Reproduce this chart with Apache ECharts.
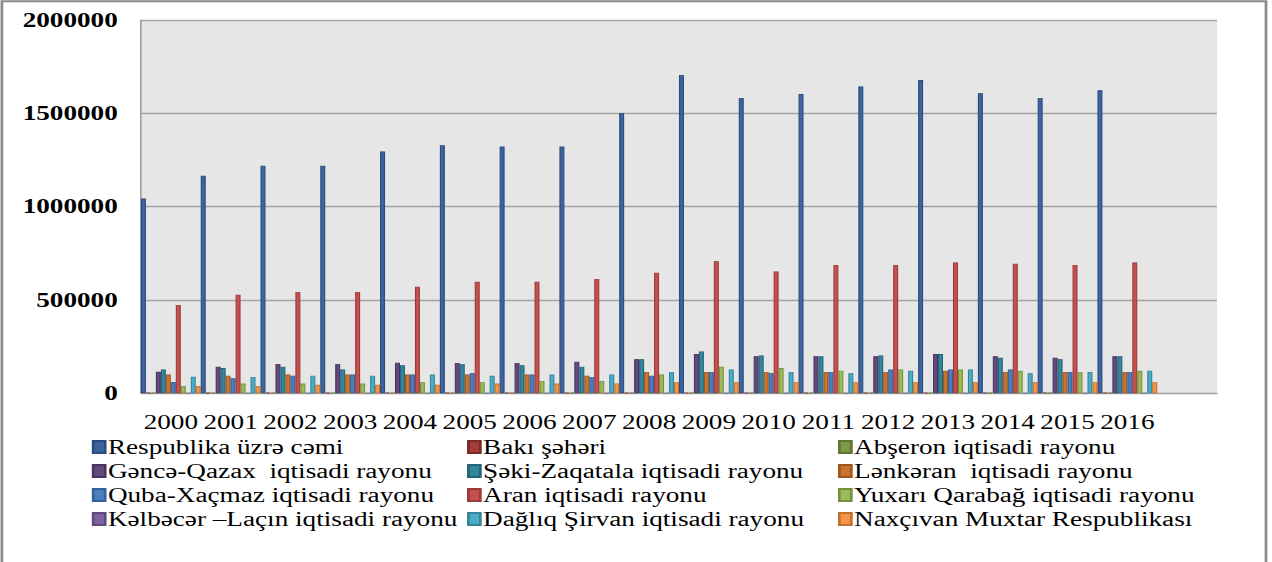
<!DOCTYPE html>
<html>
<head>
<meta charset="utf-8">
<script src="https://cdn.jsdelivr.net/npm/echarts@6/dist/echarts.min.js"></script>
<style>
html,body{margin:0;padding:0;background:#fff;overflow:hidden;}
#wrap{width:1272px;height:562px;overflow:hidden;position:relative;}
#chart{width:935px;height:562px;transform:scaleX(1.3604);transform-origin:0 0;}
</style>
</head>
<body>
<div id="wrap"><div id="chart"></div></div>
<script>
// ---- data ----
const years = ['2000','2001','2002','2003','2004','2005','2006','2007','2008','2009','2010','2011','2012','2013','2014','2015','2016'];
const yTicks = [0, 500000, 1000000, 1500000, 2000000];

const seriesNames = [
  'Respublika üzrə cəmi',
  'Bakı şəhəri',
  'Abşeron iqtisadi rayonu',
  'Gəncə-Qazax  iqtisadi rayonu',
  'Şəki-Zaqatala iqtisadi rayonu',
  'Lənkəran  iqtisadi rayonu',
  'Quba-Xaçmaz iqtisadi rayonu',
  'Aran iqtisadi rayonu',
  'Yuxarı Qarabağ iqtisadi rayonu',
  'Kəlbəcər –Laçın iqtisadi rayonu',
  'Dağlıq Şirvan iqtisadi rayonu',
  'Naxçıvan Muxtar Respublikası'
];

const respublika   = [1043000,1166000,1219000,1219000,1296000,1329000,1322000,1322000,1502000,1705000,1582000,1603000,1644000,1678000,1608000,1582000,1623000];
const baki         = [3000,3000,3000,3000,3000,3000,3000,3000,3000,3000,3000,3000,3000,3000,3000,3000,3000];
const abseron      = [3000,3000,3000,3000,3000,3000,3000,3000,3000,3000,3000,3000,3000,3000,3000,3000,3000];
const genceQazax   = [116000,142000,157000,157000,164000,162000,162000,169000,183000,210000,198000,198000,198000,210000,198000,190000,198000];
const sekiZaqatala = [128000,135000,142000,128000,150000,155000,150000,142000,183000,224000,203000,198000,203000,210000,190000,183000,198000];
const lenkeran     = [101000,94000,101000,101000,101000,101000,101000,94000,114000,114000,114000,114000,114000,121000,114000,114000,114000];
const qubaXacmaz   = [60000,80000,94000,101000,101000,109000,101000,87000,94000,114000,109000,114000,128000,128000,128000,114000,114000];
const aran         = [473000,528000,543000,543000,571000,598000,598000,612000,646000,708000,653000,687000,687000,701000,694000,687000,701000];
const yuxariQarabag= [39000,52000,52000,52000,59000,59000,66000,66000,101000,142000,135000,121000,128000,128000,121000,114000,121000];
const kelbecerLacin= [2000,2000,2000,2000,2000,2000,2000,2000,2000,2000,2000,2000,2000,2000,2000,2000,2000];
const dagliqSirvan = [89000,87000,94000,94000,101000,94000,101000,101000,114000,128000,114000,107000,121000,128000,107000,114000,121000];
const naxcivan     = [39000,39000,46000,46000,46000,52000,52000,53000,59000,59000,59000,59000,59000,59000,59000,59000,59000];

const seriesData = [respublika, baki, abseron, genceQazax, sekiZaqatala, lenkeran, qubaXacmaz, aran, yuxariQarabag, kelbecerLacin, dagliqSirvan, naxcivan];

// ---- styles ----
const fills   = ['#3b64a0','#a33d3a','#7c9a45','#64497f','#33869e','#cc7430','#4a7ebd','#c6504d','#9bbb59','#8064a2','#4bacc6','#f79646'];
const borders = ['#2b4b7c','#7d2b29','#5e7632','#48345d','#256477','#9d5620','#35619a','#9b3a38','#769040','#604a7c','#34849a','#c0712e'];
const FONT = '"Liberation Serif","Times New Roman",serif';

const chart = echarts.init(document.getElementById('chart'), null, {renderer:'svg'});

const legendCols = [
  {left: 67.5, names: [0,3,6,9]},
  {left: 343.3, names: [1,4,7,10]},
  {left: 616.0, names: [2,5,8,11]}
];

chart.setOption({
  animation: false,
  backgroundColor: '#ffffff',
  grid: {
    left: 103.6, top: 20, width: 791, height: 373.3,
    show: true, backgroundColor: '#e6e6e6', borderWidth: 0, borderColor: 'transparent',
    containLabel: false
  },
  xAxis: {
    type: 'category',
    data: years.concat(['']),
    axisLine: {show: true, lineStyle: {color: '#a0a0a0', width: 1.2}},
    axisTick: {show: false},
    axisLabel: {color: '#000', fontFamily: FONT, fontSize: 20, margin: 19, interval: 0},
    splitLine: {show: false}
  },
  yAxis: {
    type: 'value',
    min: yTicks[0], max: yTicks[yTicks.length-1], interval: yTicks[1]-yTicks[0],
    axisLine: {show: true, lineStyle: {color: '#a0a0a0', width: 1.2}},
    axisTick: {show: false},
    axisLabel: {color: '#000', fontFamily: FONT, fontSize: 20, fontWeight: 'bold', margin: 17,
      formatter: v => String(v)},
    splitLine: {show: true, lineStyle: {color: '#a3a3a3', width: 1.3}}
  },
  legend: legendCols.map(c => ({
    orient: 'vertical',
    left: c.left, top: 437,
    itemWidth: 8.8, itemHeight: 12,
    itemGap: 4,
    icon: 'rect',
    selectedMode: false,
    padding: 0,
    textStyle: {color: '#000', fontFamily: FONT, fontSize: 20, lineHeight: 20, padding: [0,0,0,-3]},
    data: c.names.map(i => seriesNames[i])
  })),
  graphic: [{
    type: 'rect',
    shape: {x: 1.4, y: 1.2, width: 929.2, height: 600},
    style: {fill: 'none', stroke: '#8a8a8a', lineWidth: 2},
    silent: true
  }],
  series: seriesNames.map((name, i) => ({
    name: name,
    type: 'bar',
    data: seriesData[i],
    barGap: '0%',
    barCategoryGap: '0%',
    itemStyle: {color: fills[i], borderColor: borders[i], borderWidth: 0.8}
  }))
});
</script>
</body>
</html>
